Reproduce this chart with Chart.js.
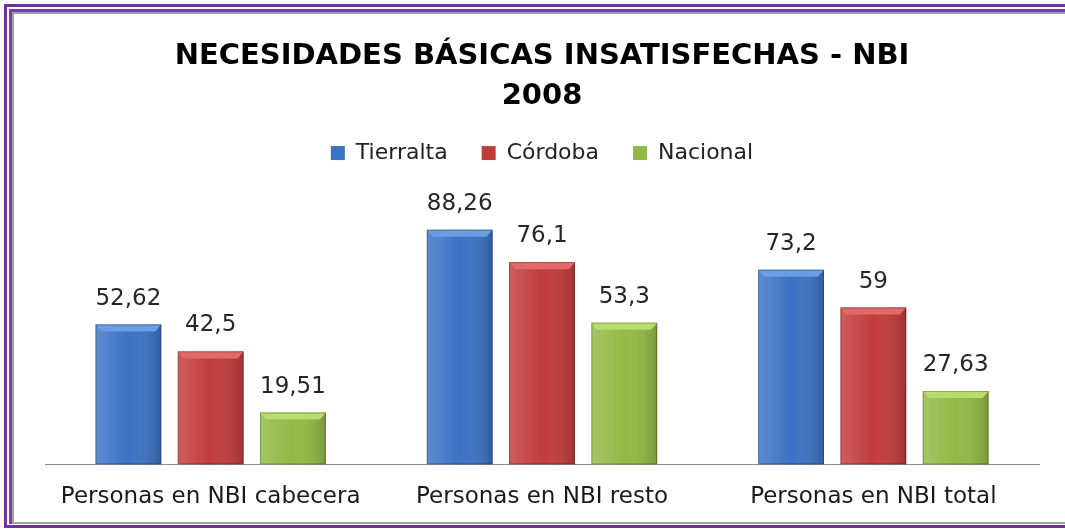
<!DOCTYPE html>
<html>
<head>
<meta charset="utf-8">
<script src="https://cdn.jsdelivr.net/npm/chart.js@4.4.0/dist/chart.umd.min.js"></script>
<style>
  html, body { margin: 0; padding: 0; background: #fff; }
  #wrap { position: relative; width: 1065px; height: 529px; overflow: hidden; }
  #chart { position: absolute; left: 0; top: 0; }
  .frame { position: absolute; pointer-events: none; box-sizing: border-box; }
</style>
</head>
<body>
<div id="wrap">
  <canvas id="chart" width="1065" height="529"></canvas>
  <!-- marco doble morado -->
  <div class="frame" style="left:4px;top:4px;width:1100px;height:524px;border-left:3px solid #7030a0;border-top:3px solid #7030a0;border-bottom:3px solid #7030a0;"></div>
  <div class="frame" style="left:9px;top:9px;width:1100px;height:515px;border-left:3px solid #7a3fab;border-top:3px solid #7a3fab;"></div>
  <div class="frame" style="left:12px;top:12px;width:1100px;height:512px;border-left:2px solid #a0a0a0;border-top:2px solid #a0a0a0;border-bottom:2px solid #a0a0a0;"></div>
</div>
<script>
// datos
var categorias = ['Personas en NBI cabecera', 'Personas en NBI resto', 'Personas en NBI total'];
var tierralta = [52.62, 88.26, 73.2];
var cordoba = [42.5, 76.1, 59];
var nacional = [19.51, 53.3, 27.63];

var colores = ['#3b72c4', '#c23b3b', '#92b945'];
var claros = ['#6b9de3', '#e46a6a', '#b9dc6e'];

// etiquetas de datos y efecto bisel sobre cada barra
var barrasPlugin = {
    id: 'barras',
    afterDatasetsDraw: function (chart) {
        var ctx = chart.ctx;
        chart.data.datasets.forEach(function (ds, i) {
            var meta = chart.getDatasetMeta(i);
            meta.data.forEach(function (bar, j) {
                var left = bar.x - bar.width / 2;
                var top = bar.y;
                var h = bar.base - bar.y;
                ctx.save();
                // sombreado horizontal
                var g = ctx.createLinearGradient(left, 0, left + bar.width, 0);
                g.addColorStop(0, 'rgba(255,255,255,0.18)');
                g.addColorStop(0.5, 'rgba(255,255,255,0.0)');
                g.addColorStop(1, 'rgba(0,0,0,0.18)');
                ctx.fillStyle = g;
                ctx.fillRect(left, top, bar.width, h);
                // bisel superior
                ctx.fillStyle = claros[i];
                ctx.beginPath();
                ctx.moveTo(left, top);
                ctx.lineTo(left + bar.width, top);
                ctx.lineTo(left + bar.width - 6, top + 7);
                ctx.lineTo(left + 6, top + 7);
                ctx.closePath();
                ctx.fill();
                // borde oscuro lateral
                ctx.strokeStyle = 'rgba(0,0,0,0.25)';
                ctx.lineWidth = 1;
                ctx.strokeRect(left + 0.5, top + 0.5, bar.width - 1, h - 1);
                ctx.restore();

                // etiqueta
                ctx.save();
                ctx.font = '23px "DejaVu Sans"';
                ctx.fillStyle = '#262626';
                ctx.textAlign = 'center';
                ctx.textBaseline = 'middle';
                ctx.fillText(String(ds.data[j]).replace('.', ','), bar.x, top - 26);
                ctx.restore();
            });
        });
    }
};

// ajustar el alto de la leyenda
var leyendaPlugin = {
    id: 'leyendaAlto',
    beforeInit: function (chart) {
        var fitOrig = chart.legend.fit;
        chart.legend.fit = function () {
            fitOrig.bind(chart.legend)();
            this.height -= 2;
        };
    }
};

var ctx = document.getElementById('chart').getContext('2d');

var chartData = {
    labels: categorias,
    datasets: [
        { label: 'Tierralta', data: tierralta, backgroundColor: colores[0] },
        { label: 'Córdoba', data: cordoba, backgroundColor: colores[1] },
        { label: 'Nacional', data: nacional, backgroundColor: colores[2] }
    ]
};

var chart = new Chart(ctx, {
    type: 'bar',
    data: chartData,
    plugins: [barrasPlugin, leyendaPlugin],
    options: {
        responsive: false,
        animation: false,
        categoryPercentage: 0.745,
        barPercentage: 0.8,
        layout: { padding: { left: 45, right: 26, top: 20, bottom: -1 } },
        plugins: {
            title: {
                display: true,
                text: ['NECESIDADES BÁSICAS INSATISFECHAS - NBI', '2008'],
                color: '#000',
                font: { family: 'DejaVu Sans', size: 29, weight: 'bold', lineHeight: 1.38 },
                padding: { top: 16, bottom: -8 }
            },
            legend: {
                position: 'top',
                labels: {
                    color: '#222',
                    font: { family: 'DejaVu Sans', size: 22 },
                    boxWidth: 14,
                    boxHeight: 14,
                    padding: 34
                }
            },
            tooltip: { enabled: false }
        },
        scales: {
            x: {
                grid: { display: false, drawTicks: false },
                border: { display: true, color: '#8c8c8c', width: 1 },
                ticks: {
                    color: '#1a1a1a',
                    font: { family: 'DejaVu Sans', size: 23 },
                    padding: 19,
                    maxRotation: 0
                }
            },
            y: {
                display: false,
                min: 0,
                max: 110
            }
        }
    }
});
</script>
</body>
</html>
